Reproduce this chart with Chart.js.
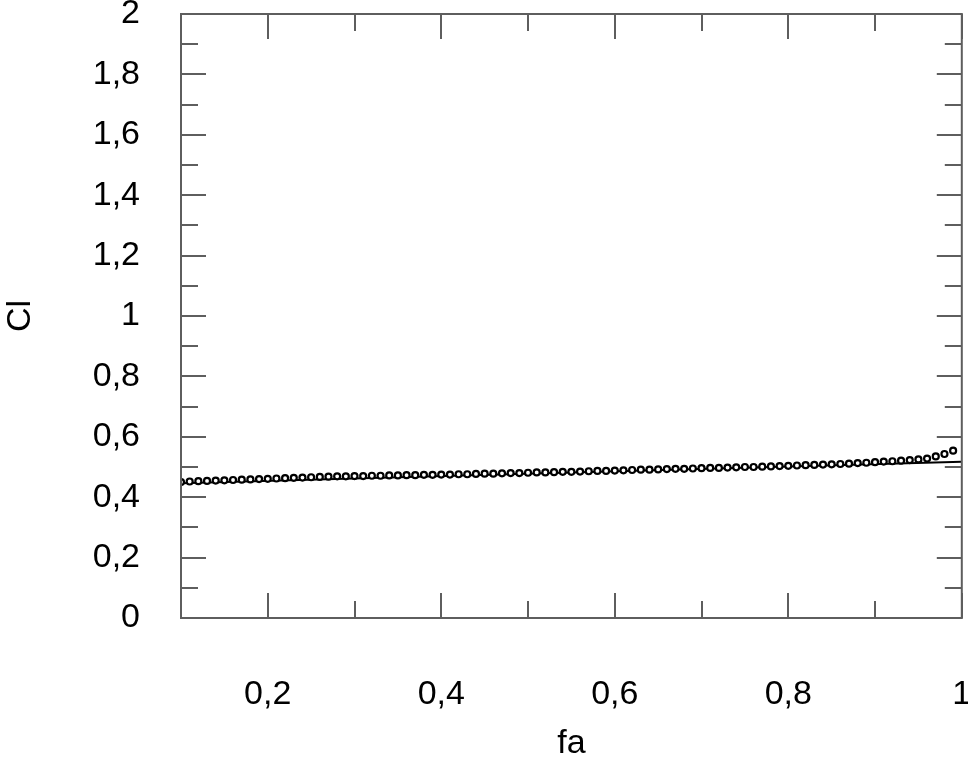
<!DOCTYPE html>
<html>
<head>
<meta charset="utf-8">
<script src="https://cdn.jsdelivr.net/npm/chart.js@4/dist/chart.umd.min.js"></script>
<style>
html,body{margin:0;padding:0;background:#fff;}
#c{display:block;}
</style>
</head>
<body>
<canvas id="c" width="968" height="764"></canvas>
<script>
// ---- data ----
const fa = [0.10,0.11,0.12,0.13,0.14,0.15,0.16,0.17,0.18,0.19,
            0.20,0.21,0.22,0.23,0.24,0.25,0.26,0.27,0.28,0.29,
            0.30,0.31,0.32,0.33,0.34,0.35,0.36,0.37,0.38,0.39,
            0.40,0.41,0.42,0.43,0.44,0.45,0.46,0.47,0.48,0.49,
            0.50,0.51,0.52,0.53,0.54,0.55,0.56,0.57,0.58,0.59,
            0.60,0.61,0.62,0.63,0.64,0.65,0.66,0.67,0.68,0.69,
            0.70,0.71,0.72,0.73,0.74,0.75,0.76,0.77,0.78,0.79,
            0.80,0.81,0.82,0.83,0.84,0.85,0.86,0.87,0.88,0.89,
            0.90,0.91,0.92,0.93,0.94,0.95,0.96,0.97,0.98,0.99];
const clPoints = [0.450,0.452,0.453,0.454,0.455,0.456,0.457,0.458,0.459,0.460,
                  0.461,0.462,0.463,0.464,0.465,0.466,0.467,0.468,0.469,0.469,
                  0.470,0.470,0.471,0.471,0.472,0.472,0.473,0.473,0.474,0.474,
                  0.475,0.475,0.476,0.476,0.477,0.478,0.478,0.479,0.480,0.480,
                  0.481,0.482,0.482,0.483,0.484,0.484,0.485,0.486,0.487,0.487,
                  0.488,0.489,0.490,0.491,0.491,0.492,0.493,0.494,0.494,0.495,
                  0.496,0.497,0.497,0.498,0.499,0.500,0.500,0.501,0.502,0.503,
                  0.504,0.505,0.506,0.507,0.508,0.509,0.510,0.511,0.513,0.514,
                  0.516,0.518,0.519,0.521,0.523,0.525,0.528,0.535,0.543,0.554];
const lineFa = [0.10, 1.00];
const lineCl = [0.446, 0.517];
const xMajorTicks = [0.2, 0.4, 0.6, 0.8, 1.0];
const xMinorTicks = [0.3, 0.5, 0.7, 0.9];
const yMajorTicks = [0, 0.2, 0.4, 0.6, 0.8, 1.0, 1.2, 1.4, 1.6, 1.8, 2.0];
const yMinorTicks = [0.1, 0.3, 0.5, 0.7, 0.9, 1.1, 1.3, 1.5, 1.7, 1.9];
const xTitle = 'fa';
const yTitle = 'Cl';

function fmt(v){
  const r = Math.round(v*10)/10;
  return String(r).replace('.', ',');
}

const FONT = "'Liberation Sans', Arial, sans-serif";
const frameColor = '#5e5e5e';

const framePlugin = {
  id: 'frame',
  afterDatasetsDraw(chart){
    const {ctx, chartArea:a, scales:{x, y}} = chart;
    ctx.save();
    ctx.strokeStyle = frameColor;
    ctx.lineWidth = 2;
    ctx.beginPath();
    const L = 25, S = 17;
    xMajorTicks.concat(xMinorTicks).forEach(v=>{
      const px = Math.round(x.getPixelForValue(v));
      const len = xMajorTicks.includes(v) ? L : S;
      ctx.moveTo(px, a.bottom); ctx.lineTo(px, a.bottom - len);
      ctx.moveTo(px, a.top); ctx.lineTo(px, a.top + len);
    });
    yMajorTicks.concat(yMinorTicks).forEach(v=>{
      const py = Math.round(y.getPixelForValue(v));
      const len = yMajorTicks.includes(v) ? L : S;
      ctx.moveTo(a.left, py); ctx.lineTo(a.left + len, py);
      ctx.moveTo(a.right, py); ctx.lineTo(a.right - len, py);
    });
    ctx.stroke();
    ctx.strokeRect(a.left, a.top, a.right - a.left, a.bottom - a.top);
    ctx.restore();
  }
};

function zeroPad(s){ s.paddingTop = 0; s.paddingBottom = 0; s.paddingLeft = 0; s.paddingRight = 0; }

new Chart(document.getElementById('c'), {
  type: 'scatter',
  data: {
    datasets: [
      {
        label: 'points',
        data: fa.map((v,i)=>({x:v, y:clPoints[i]})),
        showLine: false,
        pointStyle: 'circle',
        pointRadius: 3,
        pointBorderWidth: 2.2,
        pointBorderColor: '#000',
        pointBackgroundColor: '#fff'
      },
      {
        label: 'fit',
        data: lineFa.map((v,i)=>({x:v, y:lineCl[i]})),
        showLine: true,
        borderColor: '#000',
        borderWidth: 2,
        pointRadius: 0,
        fill: false
      }
    ]
  },
  options: {
    responsive: false,
    animation: false,
    devicePixelRatio: 1,
    layout: { padding: { top: 14, right: 3, left: 0, bottom: 0 } },
    plugins: { legend: { display: false }, tooltip: { enabled: false } },
    scales: {
      x: {
        type: 'linear',
        min: 0.1, max: 1.0,
        grid: { display: false, drawTicks: false },
        border: { display: false },
        afterBuildTicks(s){ s.ticks = xMajorTicks.map(v=>({value:v})); },
        afterFit(s){ s.height = 764 - 618; zeroPad(s); },
        ticks: {
          autoSkip: false, maxRotation: 0, padding: 56,
          color: '#000', font: { family: FONT, size: 34 },
          callback: v => fmt(v)
        },
        title: {
          display: true, text: xTitle, color: '#000',
          font: { family: FONT, size: 34 }, padding: { top: 8, bottom: 0 }
        }
      },
      y: {
        type: 'linear',
        min: 0, max: 2,
        grid: { display: false, drawTicks: false },
        border: { display: false },
        afterBuildTicks(s){ s.ticks = yMajorTicks.map(v=>({value:v})); },
        afterFit(s){ s.width = 181; zeroPad(s); },
        ticks: {
          autoSkip: false, padding: 41,
          color: '#000', font: { family: FONT, size: 34 },
          callback: v => fmt(v)
        },
        title: {
          display: true, text: yTitle, color: '#000',
          font: { family: FONT, size: 34 }, padding: { top: 0, bottom: 0 }
        }
      }
    }
  },
  plugins: [framePlugin]
});
</script>
</body>
</html>
